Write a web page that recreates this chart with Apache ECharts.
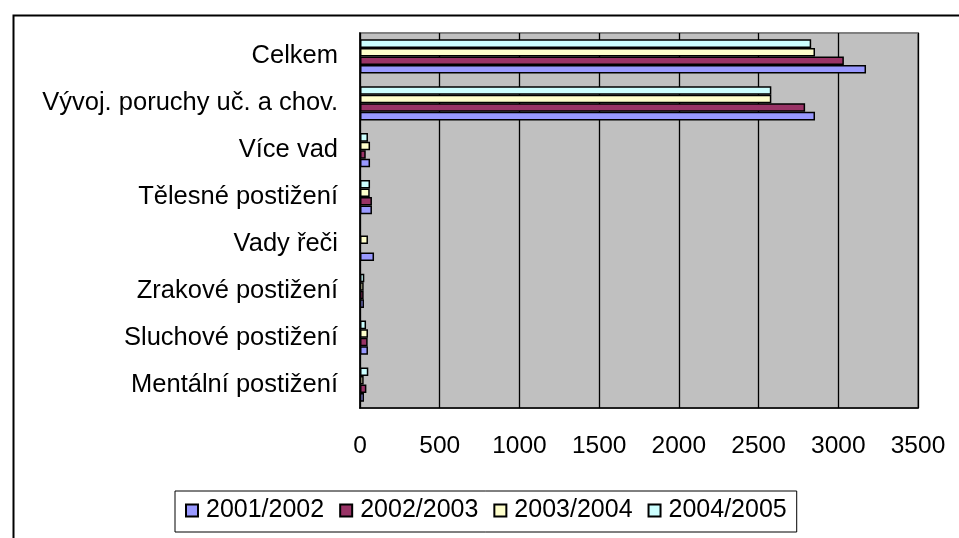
<!DOCTYPE html>
<html>
<head>
<meta charset="utf-8">
<script src="https://cdn.jsdelivr.net/npm/echarts@6/dist/echarts.min.js"></script>
<style>html,body{margin:0;padding:0;background:#fff;}#c{width:959px;height:538px;}</style>
</head>
<body>
<div id="c"></div>
<script>
// Categories listed bottom -> top (ECharts category y-axis starts at bottom)
const categories = ['Mentální postižení','Sluchové postižení','Zrakové postižení','Vady řeči','Tělesné postižení','Více vad','Vývoj. poruchy uč. a chov.','Celkem'];
const seriesNames = ['2001/2002','2002/2003','2003/2004','2004/2005'];
const s2001 = [25, 50, 25, 88, 75, 63, 2854, 3174];
const s2002 = [40, 48, 23, null, 75, 36, 2792, 3035];
const s2003 = [23, 50, 23, 50, 61, 63, 2580, 2854];
const s2004 = [52, 38, 27, null, 63, 50, 2580, 2830];
const xTicks = {min: 0, max: 3500, interval: 500};

const colors = ['#9999FF','#993366','#FFFFCC','#CCFFFF'];
const allData = [s2001, s2002, s2003, s2004];
const FONT = "'Liberation Sans', Arial, sans-serif";

// ECharts stacks series top->bottom inside a horizontal band; Excel puts the first series at the bottom,
// so series are added in reverse order (legend order kept).
const order = [3, 2, 1, 0];

const chart = echarts.init(document.getElementById('c'), null, {renderer: 'canvas'});
chart.setOption({
  animation: false,
  backgroundColor: '#fff',
  textStyle: {fontFamily: FONT},
  graphic: [{
    type: 'rect', left: 11, top: 13, silent: true,
    shape: {x: 0, y: 0, width: 1000, height: 600},
    style: {fill: 'none', stroke: '#000', lineWidth: 2}
  }],
  grid: {
    left: 360, top: 33, width: 558, height: 375,
    show: true, backgroundColor: '#C0C0C0', borderColor: '#808080', borderWidth: 2
  },
  legend: {
    data: seriesNames,
    left: 175, top: 491,
    padding: [7, 10, 9, 10],
    itemGap: 15,
    itemWidth: 12, itemHeight: 12,
    icon: 'rect',
    borderColor: '#000', borderWidth: 1,
    textStyle: {fontSize: 25, color: '#000', fontFamily: FONT, padding: [0, 0, 0, 3]}
  },
  xAxis: {
    type: 'value',
    min: xTicks.min, max: xTicks.max, interval: xTicks.interval,
    axisLine: {show: true, lineStyle: {color: '#000', width: 1.5}},
    axisTick: {show: false},
    splitLine: {show: true, lineStyle: {color: '#000', width: 1.3}},
    axisLabel: {fontSize: 24.5, color: '#000', fontFamily: FONT, margin: 26, formatter: v => String(v)}
  },
  yAxis: {
    type: 'category',
    data: categories,
    axisLine: {show: true, lineStyle: {color: '#000', width: 1.5}},
    axisTick: {show: false},
    axisLabel: {fontSize: 25.5, color: '#000', fontFamily: FONT, margin: 22}
  },
  series: order.map(i => ({
    name: seriesNames[i],
    type: 'bar',
    data: allData[i],
    barGap: '0%',
    barCategoryGap: '27%',
    itemStyle: {color: colors[i], borderColor: '#000', borderWidth: 1.5}
  }))
});
</script>
</body>
</html>
